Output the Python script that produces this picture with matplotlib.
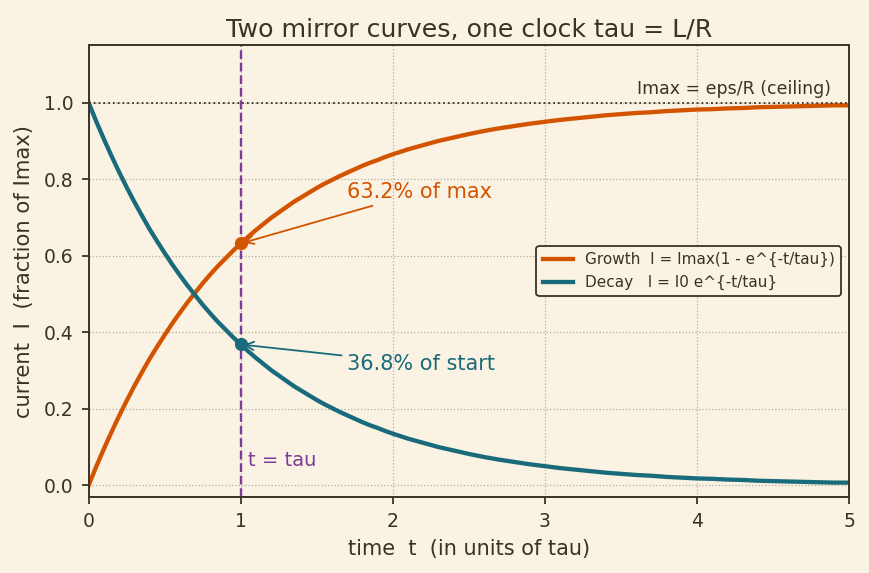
import numpy as np
import matplotlib.pyplot as plt

# time in units of tau: fine steps where the curves bend most, coarser after
t_values = [0.00, 0.05, 0.10, 0.15, 0.20, 0.25, 0.30, 0.35, 0.40, 0.45,
            0.50, 0.55, 0.60, 0.65, 0.70, 0.75, 0.80, 0.85, 0.90, 0.95,
            1.00, 1.05, 1.10, 1.15, 1.20, 1.25, 1.30, 1.35, 1.40, 1.45,
            1.50, 1.55, 1.60, 1.65, 1.70, 1.75, 1.80, 1.85, 1.90, 1.95,
            2.0, 2.1, 2.2, 2.3, 2.4, 2.5, 2.6, 2.7, 2.8, 2.9,
            3.0, 3.1, 3.2, 3.3, 3.4, 3.5, 3.6, 3.7, 3.8, 3.9,
            4.0, 4.1, 4.2, 4.3, 4.4, 4.5, 4.6, 4.7, 4.8, 4.9, 5.0]

# decay curve (fraction of I0)
decay_values = [1.000, 0.951, 0.905, 0.861, 0.819, 0.779, 0.741, 0.705, 0.670, 0.638,
                0.607, 0.577, 0.549, 0.522, 0.497, 0.472, 0.449, 0.427, 0.407, 0.387,
                0.368, 0.350, 0.333, 0.317, 0.301, 0.287, 0.273, 0.259, 0.247, 0.235,
                0.223, 0.212, 0.202, 0.192, 0.183, 0.174, 0.165, 0.157, 0.150, 0.142,
                0.135, 0.122, 0.111, 0.100, 0.091, 0.082, 0.074, 0.067, 0.061, 0.055,
                0.050, 0.045, 0.041, 0.037, 0.033, 0.030, 0.027, 0.025, 0.022, 0.020,
                0.018, 0.017, 0.015, 0.014, 0.012, 0.011, 0.010, 0.009, 0.008, 0.007,
                0.007]

# growth curve (fraction of Imax)
growth_values = [0.000, 0.049, 0.095, 0.139, 0.181, 0.221, 0.259, 0.295, 0.330, 0.362,
                 0.393, 0.423, 0.451, 0.478, 0.503, 0.528, 0.551, 0.573, 0.593, 0.613,
                 0.632, 0.650, 0.667, 0.683, 0.699, 0.713, 0.727, 0.741, 0.753, 0.765,
                 0.777, 0.788, 0.798, 0.808, 0.817, 0.826, 0.835, 0.843, 0.850, 0.858,
                 0.865, 0.878, 0.889, 0.900, 0.909, 0.918, 0.926, 0.933, 0.939, 0.945,
                 0.950, 0.955, 0.959, 0.963, 0.967, 0.970, 0.973, 0.975, 0.978, 0.980,
                 0.982, 0.983, 0.985, 0.986, 0.988, 0.989, 0.990, 0.991, 0.992, 0.993,
                 0.993]

tau = 1.0
growth_at_tau = 0.632
decay_at_tau = 0.368
ceiling = 1.0

bg = '#faf2e3'
ink = '#3b3127'
orange = '#d35400'
teal = '#196b7b'
purple = '#7d3c98'

plt.rcParams['font.family'] = 'DejaVu Sans'
fig = plt.figure(figsize=(8.69, 5.73), dpi=100, facecolor=bg)
ax = fig.add_axes([0.102, 0.133, 0.875, 0.788], facecolor=bg)

ax.grid(True, linestyle=':', color='#b5ada0', linewidth=0.9)
ax.set_axisbelow(True)

ax.plot(t_values, growth_values, color=orange, linewidth=3.1,
        label='Growth  I = Imax(1 - e^{-t/tau})')
ax.plot(t_values, decay_values, color=teal, linewidth=3.1,
        label='Decay   I = I0 e^{-t/tau}')

# ceiling line and tau marker
ax.axhline(ceiling, color=ink, linestyle=':', linewidth=1.3)
ax.text(4.88, ceiling + 0.012, 'Imax = eps/R (ceiling)', ha='right', va='bottom',
        fontsize=12.5, color=ink)
ax.axvline(tau, color=purple, linestyle='--', linewidth=1.7)
ax.text(tau + 0.05, 0.065, 't = tau', color=purple, fontsize=14, va='center')

ax.plot([tau], [growth_at_tau], 'o', color=orange, markersize=8.5)
ax.plot([tau], [decay_at_tau], 'o', color=teal, markersize=8.5)

ax.annotate('63.2% of max', xy=(tau, growth_at_tau), xytext=(1.7, 0.766),
            color=orange, fontsize=15, va='center', ha='left',
            arrowprops=dict(arrowstyle='->', color=orange, lw=1.3))
ax.annotate('36.8% of start', xy=(tau, decay_at_tau), xytext=(1.7, 0.317),
            color=teal, fontsize=15, va='center', ha='left',
            arrowprops=dict(arrowstyle='->', color=teal, lw=1.3))

ax.set_xlim(0, 5)
ax.set_ylim(-0.03, 1.15)
ax.set_xticks([0, 1, 2, 3, 4, 5])
ax.set_yticks([0.0, 0.2, 0.4, 0.6, 0.8, 1.0])
ax.tick_params(colors=ink, labelsize=13.5, width=1.3, length=5, pad=6)
for s in ax.spines.values():
    s.set_color(ink)
    s.set_linewidth(1.4)

ax.set_xlabel('time  t  (in units of tau)', fontsize=15, color=ink, labelpad=6)
ax.set_ylabel('current  I  (fraction of Imax)', fontsize=15.2, color=ink, labelpad=7)
ax.set_title('Two mirror curves, one clock tau = L/R', fontsize=18.2, color=ink)

leg = ax.legend(loc='center right', fontsize=11, facecolor=bg, edgecolor=ink,
                framealpha=1, fancybox=True)
leg.get_frame().set_linewidth(1.3)
for txt in leg.get_texts():
    txt.set_color(ink)

fig.savefig('out.png', dpi=100, facecolor=bg)
